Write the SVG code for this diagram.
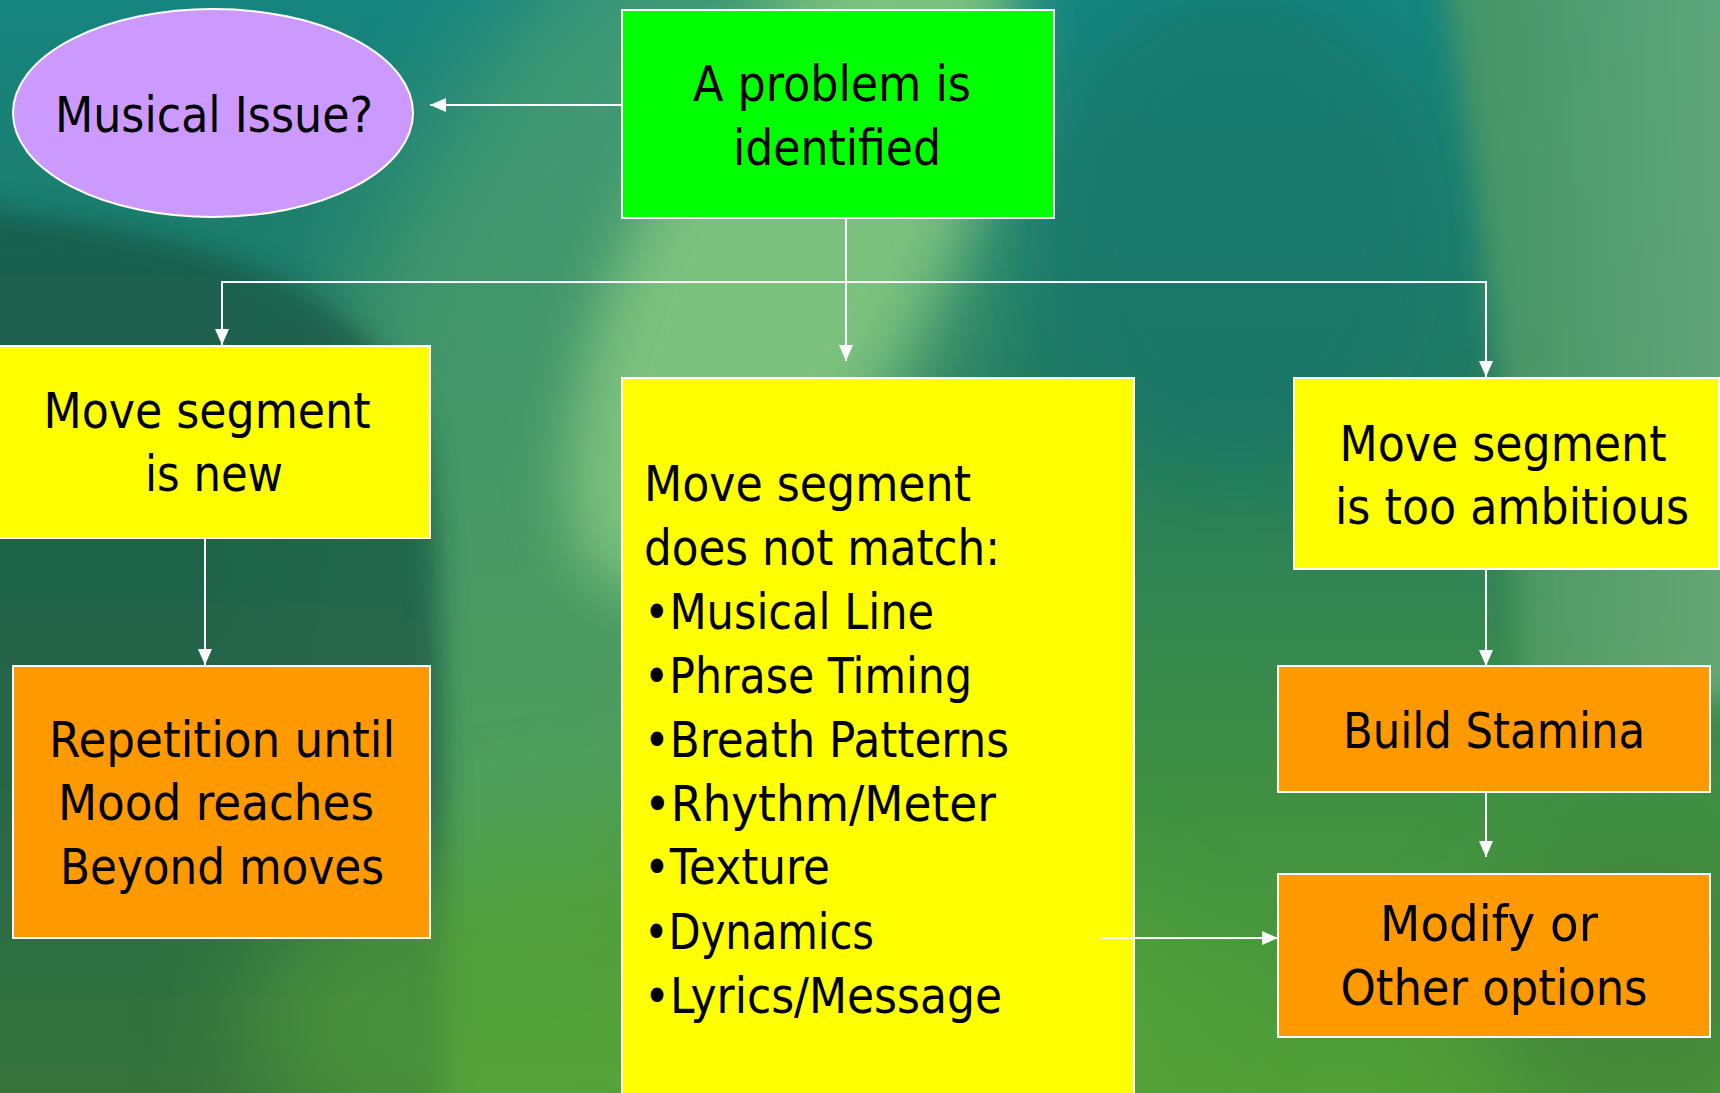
<svg xmlns="http://www.w3.org/2000/svg" width="1720" height="1093" viewBox="0 0 1720 1093">
  <defs>
    <linearGradient id="bgBase" x1="0" y1="0" x2="0" y2="1">
      <stop offset="0" stop-color="#16857f"/>
      <stop offset="0.35" stop-color="#217a62"/>
      <stop offset="0.7" stop-color="#3e8f45"/>
      <stop offset="1" stop-color="#52a036"/>
    </linearGradient>
    <linearGradient id="darkSide" x1="0" y1="0" x2="0" y2="1">
      <stop offset="0" stop-color="#185a4a"/>
      <stop offset="0.55" stop-color="#22604a"/>
      <stop offset="1" stop-color="#356f3a"/>
    </linearGradient>
    <linearGradient id="rightSide" x1="0" y1="0" x2="1" y2="0">
      <stop offset="0" stop-color="#4a9660"/>
      <stop offset="1" stop-color="#7cb686"/>
    </linearGradient>
    <filter id="soft" filterUnits="userSpaceOnUse" x="-300" y="-300" width="2320" height="1693">
      <feGaussianBlur stdDeviation="30"/>
    </filter>
    <filter id="softer" filterUnits="userSpaceOnUse" x="-300" y="-300" width="2320" height="1693">
      <feGaussianBlur stdDeviation="55"/>
    </filter>
    <filter id="edge" filterUnits="userSpaceOnUse" x="-300" y="-300" width="2320" height="1693">
      <feGaussianBlur stdDeviation="14"/>
    </filter>
    <marker id="arrow" viewBox="0 0 16 14" refX="16" refY="7" markerWidth="16" markerHeight="14" markerUnits="userSpaceOnUse" orient="auto">
      <path d="M0,0 L16,7 L0,14 Z" fill="#ffffff"/>
    </marker>
    <style>
      .box { stroke: #ffffff; stroke-width: 2; }
      .yellow { fill: #ffff00; }
      .orange { fill: #ff9900; }
      .green { fill: #00ff00; }
      .purple { fill: #cc99ff; }
      .label { font-family: "DejaVu Sans", "Liberation Sans", sans-serif; font-size: 50px; fill: #000000; }
      .mid { text-anchor: middle; }
      .link { fill: none; stroke: #ffffff; stroke-width: 2; }
    </style>
  </defs>

  <!-- soft green backdrop -->
  <g id="backdrop">
    <rect x="0" y="0" width="1720" height="1093" fill="url(#bgBase)"/>
    <!-- broad light sweep through the middle -->
    <ellipse cx="640" cy="380" rx="300" ry="560" fill="#5aa870" opacity="0.6" transform="rotate(24 640 380)" filter="url(#softer)"/>
    <ellipse cx="790" cy="250" rx="150" ry="380" fill="#82c680" opacity="0.9" transform="rotate(28 790 250)" filter="url(#soft)"/>
    <!-- darker curved region on the left -->
    <path d="M-100,200 C180,225 360,270 420,420 C450,520 440,800 450,1200 L-100,1200 Z" fill="url(#darkSide)" opacity="0.85" filter="url(#edge)"/>
    <!-- teal pocket and lighter slope on the right -->
    <ellipse cx="1240" cy="230" rx="190" ry="240" fill="#137468" opacity="0.55" filter="url(#soft)"/>
    <path d="M1430,-100 C1480,200 1510,420 1520,700 L1800,700 L1800,-100 Z" fill="url(#rightSide)" opacity="0.8" filter="url(#edge)"/>
    <ellipse cx="720" cy="1020" rx="480" ry="200" fill="#58a63a" opacity="0.6" filter="url(#softer)"/>
    <ellipse cx="1640" cy="1000" rx="160" ry="160" fill="#3c7c3c" opacity="0.6" filter="url(#softer)"/>
  </g>

  <!-- connectors -->
  <g id="connectors">
    <line class="link" x1="622" y1="105" x2="430" y2="105" marker-end="url(#arrow)"/>
    <line class="link" x1="846" y1="218" x2="846" y2="361" marker-end="url(#arrow)"/>
    <polyline class="link" points="222,282 1486,282"/>
    <line class="link" x1="222" y1="281" x2="222" y2="345" marker-end="url(#arrow)"/>
    <line class="link" x1="1486" y1="281" x2="1486" y2="377" marker-end="url(#arrow)"/>
    <line class="link" x1="205" y1="538" x2="205" y2="665" marker-end="url(#arrow)"/>
    <line class="link" x1="1486" y1="569" x2="1486" y2="666" marker-end="url(#arrow)"/>
    <line class="link" x1="1486" y1="792" x2="1486" y2="857" marker-end="url(#arrow)"/>
  </g>

  <g id="musical-issue">
    <ellipse class="box purple" cx="213" cy="113" rx="200" ry="104"/>
    <text class="label mid" x="214" y="132" textLength="318" lengthAdjust="spacingAndGlyphs">Musical Issue?</text>
  </g>

  <g id="problem">
    <rect class="box green" x="622" y="10" width="432" height="208"/>
    <text class="label mid" x="832" y="101" textLength="278" lengthAdjust="spacingAndGlyphs">A problem is</text>
    <text class="label mid" x="837" y="165" textLength="208" lengthAdjust="spacingAndGlyphs">identified</text>
  </g>

  <g id="segment-new">
    <rect class="box yellow" x="-2" y="346" width="432" height="192"/>
    <text class="label mid" x="207" y="428" textLength="327" lengthAdjust="spacingAndGlyphs">Move segment</text>
    <text class="label mid" x="214" y="491" textLength="138" lengthAdjust="spacingAndGlyphs">is new</text>
  </g>

  <g id="repetition">
    <rect class="box orange" x="13" y="666" width="417" height="272"/>
    <text class="label mid" x="222" y="757" textLength="346" lengthAdjust="spacingAndGlyphs">Repetition until</text>
    <text class="label mid" x="216" y="820" textLength="316" lengthAdjust="spacingAndGlyphs">Mood reaches</text>
    <text class="label mid" x="222" y="884" textLength="324" lengthAdjust="spacingAndGlyphs">Beyond moves</text>
  </g>

  <g id="segment-mismatch">
    <rect class="box yellow" x="622" y="378" width="512" height="730"/>
    <text class="label" x="644" y="501" textLength="327" lengthAdjust="spacingAndGlyphs">Move segment</text>
    <text class="label" x="644" y="565" textLength="356" lengthAdjust="spacingAndGlyphs">does not match:</text>
    <text class="label" x="644" y="629" textLength="290" lengthAdjust="spacingAndGlyphs">•Musical Line</text>
    <text class="label" x="644" y="693" textLength="328" lengthAdjust="spacingAndGlyphs">•Phrase Timing</text>
    <text class="label" x="644" y="757" textLength="365" lengthAdjust="spacingAndGlyphs">•Breath Patterns</text>
    <text class="label" x="644" y="821" textLength="352" lengthAdjust="spacingAndGlyphs">•Rhythm/Meter</text>
    <text class="label" x="644" y="884" textLength="186" lengthAdjust="spacingAndGlyphs">•Texture</text>
    <text class="label" x="644" y="949" textLength="230" lengthAdjust="spacingAndGlyphs">•Dynamics</text>
    <text class="label" x="644" y="1013" textLength="358" lengthAdjust="spacingAndGlyphs">•Lyrics/Message</text>
  </g>

  <g id="segment-ambitious">
    <rect class="box yellow" x="1294" y="378" width="425" height="191"/>
    <text class="label mid" x="1503" y="461" textLength="327" lengthAdjust="spacingAndGlyphs">Move segment</text>
    <text class="label mid" x="1512" y="524" textLength="354" lengthAdjust="spacingAndGlyphs">is too ambitious</text>
  </g>

  <g id="build-stamina">
    <rect class="box orange" x="1278" y="666" width="432" height="126"/>
    <text class="label mid" x="1494" y="748" textLength="302" lengthAdjust="spacingAndGlyphs">Build Stamina</text>
  </g>

  <g id="modify">
    <rect class="box orange" x="1278" y="874" width="432" height="163"/>
    <text class="label mid" x="1489" y="941" textLength="218" lengthAdjust="spacingAndGlyphs">Modify or</text>
    <text class="label mid" x="1494" y="1005" textLength="307" lengthAdjust="spacingAndGlyphs">Other options</text>
  </g>

  <!-- drawn over the list box, which it starts inside -->
  <g id="connector-overlay">
    <line class="link" x1="1101" y1="938" x2="1278" y2="938" marker-end="url(#arrow)"/>
  </g>
</svg>
